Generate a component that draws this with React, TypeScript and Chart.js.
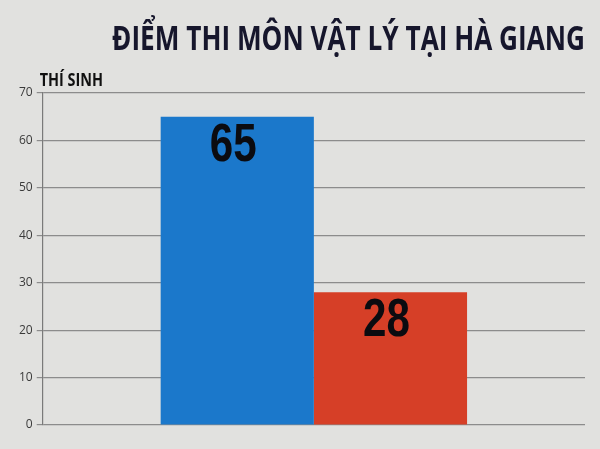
import { useEffect, useRef } from "react";
import { Chart, registerables } from "chart.js";

Chart.register(...registerables);

const titleText = "ĐIỂM THI MÔN VẬT LÝ TẠI HÀ GIANG";
const axisLabel = "THÍ SINH";
const categories = [""];
const seriesNames = ["A", "B"];
const seriesValues = [65, 28];
const seriesColors = ["#1b78cb", "#d63f27"];

// condensed text: draw with a horizontal squeeze, since no narrow font is installed
function drawNarrow(ctx: any, text: string, x: number, y: number, squeeze: number) {
  ctx.save();
  ctx.translate(x, y);
  ctx.scale(squeeze, 1);
  ctx.fillText(text, 0, 0);
  ctx.restore();
}

const barTextPlugin = {
  id: "barText",
  afterDatasetsDraw(chart: any) {
    const ctx = chart.ctx;
    const area = chart.chartArea;
    ctx.save();
    chart.data.datasets.forEach((ds: any, i: number) => {
      const meta = chart.getDatasetMeta(i);
      meta.data.forEach((bar: any, j: number) => {
        ctx.fillStyle = "#0b0b10";
        ctx.font = "bold 54px 'Liberation Sans', Arial, sans-serif";
        ctx.textAlign = "center";
        ctx.textBaseline = "alphabetic";
        drawNarrow(ctx, String(ds.data[j]), bar.x - 4, bar.y + 44, 0.78);
      });
    });

    // chart title, right-aligned to the plot
    ctx.fillStyle = "#16162c";
    ctx.font = "bold 34px 'Open Sans', sans-serif";
    ctx.textAlign = "right";
    ctx.textBaseline = "alphabetic";
    drawNarrow(ctx, titleText, area.right, 50, 0.77);

    // axis caption above the y axis
    ctx.font = "bold 18px 'Open Sans', sans-serif";
    ctx.fillStyle = "#111";
    ctx.textAlign = "left";
    drawNarrow(ctx, axisLabel, area.left - 3, 86, 0.8);
    ctx.restore();
  },
};

export default function App() {
  const chartRef = useRef<HTMLCanvasElement>(null);
  const chartInstance = useRef<Chart | null>(null);

  useEffect(() => {
    if (!chartRef.current) return;
    const ctx = chartRef.current.getContext("2d");
    if (!ctx) return;

    if (chartInstance.current) {
      chartInstance.current.destroy();
    }

    chartInstance.current = new Chart(ctx, {
      type: "bar",
      data: {
        labels: categories,
        datasets: seriesValues.map((v, i) => ({
          label: seriesNames[i],
          data: [v],
          backgroundColor: seriesColors[i],
          borderWidth: 0,
          categoryPercentage: 0.565,
          barPercentage: 1,
        })),
      },
      options: {
        animation: false,
        responsive: true,
        maintainAspectRatio: false,
        layout: {
          padding: { top: 93, bottom: 24, left: 15, right: 15 },
        },
        plugins: {
          legend: { display: false },
          tooltip: { enabled: false },
          title: { display: false },
        },
        scales: {
          x: {
            display: false,
          },
          y: {
            min: 0,
            max: 70,
            ticks: {
              stepSize: 10,
              color: "#3a3a3a",
              font: { family: "'Open Sans', sans-serif", size: 12 },
              padding: 4,
            },
            grid: {
              color: "#8c8c8c",
              lineWidth: 1.2,
              tickLength: 6,
            },
            border: {
              display: true,
              color: "#7a7a7a",
              width: 1.2,
            },
          },
        },
      },
      plugins: [barTextPlugin],
    });

    return () => {
      if (chartInstance.current) {
        chartInstance.current.destroy();
      }
    };
  }, []);

  return (
    <div
      style={{
        position: "fixed",
        left: 0,
        top: 0,
        width: 600,
        height: 449,
        background: "#e1e1df",
      }}
    >
      <canvas ref={chartRef}></canvas>
    </div>
  );
}
